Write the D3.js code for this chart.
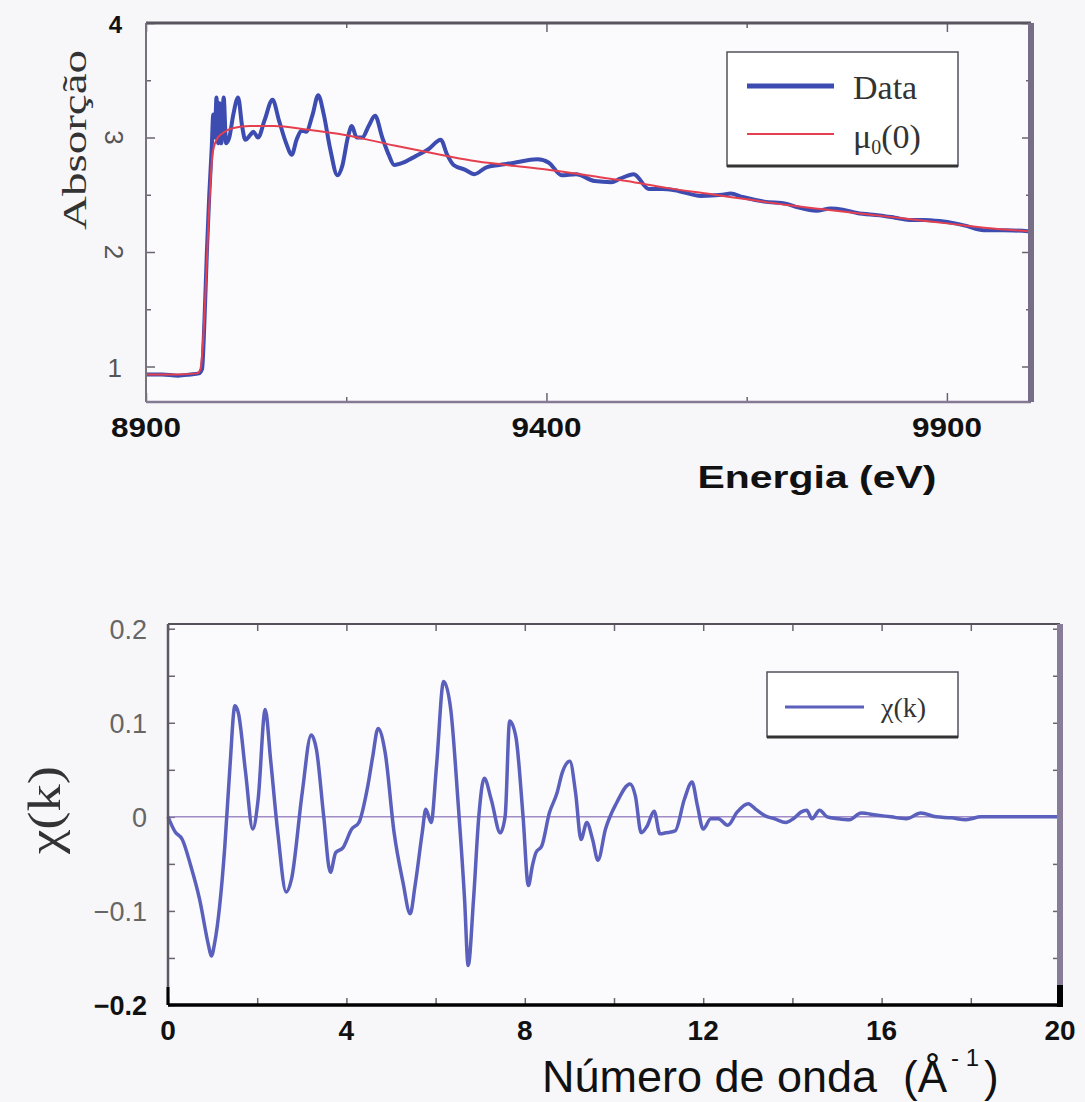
<!DOCTYPE html>
<html>
<head>
<meta charset="utf-8">
<script src="https://cdn.jsdelivr.net/npm/d3@7/dist/d3.min.js"></script>
<style>
    body { margin: 0; background: #f7f7fa; }
    svg { display: block; }
</style>
</head>
<body>
<div id="panel"></div>
<script>
// top panel: absorption vs energy (eV)
let energy = [
    8900, 8920, 8940, 8955, 8966, 8970, 8973, 8976, 8979, 8982,
    8984, 8986, 8988, 8990, 8992, 8994, 8997, 9000, 9004, 9009,
    9015, 9020, 9024, 9030, 9034, 9040, 9048, 9058, 9066, 9075,
    9082, 9088, 9094, 9100, 9108, 9115, 9122, 9130, 9139, 9145,
    9152, 9157, 9163, 9170, 9178, 9186, 9195, 9203, 9210, 9221,
    9232, 9243, 9253, 9268, 9276, 9284, 9298, 9310, 9325, 9341,
    9360, 9375, 9389, 9403, 9419, 9437, 9460, 9481, 9492, 9509,
    9528, 9545, 9560, 9593, 9620, 9630, 9645, 9672, 9700, 9714,
    9737, 9755, 9770, 9788, 9816, 9835, 9853, 9870, 9891, 9910,
    9923, 9946, 9970, 10004
]
let absData = [
    0.93, 0.93, 0.92, 0.93, 0.94, 0.98, 1.4, 2.0, 2.5, 2.9,
    3.2, 3.0, 3.35, 2.95, 3.3, 2.95, 3.35, 2.95, 3.0, 3.2,
    3.35, 3.1, 2.98, 3.02, 3.05, 3.0, 3.15, 3.33, 3.15, 2.95,
    2.85, 2.98, 3.06, 3.05, 3.2, 3.37, 3.2, 2.9, 2.67, 2.75,
    3.0, 3.1, 3.0, 3.0, 3.1, 3.19, 3.0, 2.85, 2.76, 2.78,
    2.82, 2.86, 2.9, 2.98, 2.85, 2.76, 2.72, 2.68, 2.74, 2.76,
    2.78, 2.8, 2.81, 2.78, 2.67, 2.68, 2.62, 2.61, 2.64, 2.68,
    2.55, 2.55, 2.54, 2.49, 2.5, 2.51, 2.48, 2.44, 2.42, 2.39,
    2.36, 2.38, 2.37, 2.34, 2.32, 2.3, 2.28, 2.28, 2.27, 2.25,
    2.23, 2.19, 2.19, 2.18
]
// smooth background mu0(E)
let energyBg = [
    8900, 8940, 8964, 8968, 8971, 8974, 8977, 8980, 8983, 8988,
    8996, 9008, 9030, 9060, 9100, 9150, 9210, 9260, 9306, 9350,
    9400, 9450, 9500, 9550, 9600, 9650, 9700, 9750, 9800, 9850,
    9900, 9950, 10004
]
let absBg = [
    0.93, 0.93, 0.94, 0.98, 1.2, 1.6, 2.1, 2.55, 2.85, 2.98,
    3.04, 3.08, 3.1, 3.1, 3.07, 3.02, 2.93, 2.86, 2.8, 2.76,
    2.72, 2.67, 2.62, 2.56, 2.51, 2.46, 2.41, 2.37, 2.33, 2.29,
    2.25, 2.21, 2.18
]
let energyTicks = [8900, 9400, 9900]
let energyMinor = [9150, 9650]
let absTicks = [1, 2, 3, 4]
let absMinor = [1.5, 2.5, 3.5]

// bottom panel: chi(k) vs wave number
let kValues = [
    0, 0.16, 0.32, 0.51, 0.71, 0.91, 0.97, 1.05, 1.27, 1.39,
    1.5, 1.58, 1.74, 1.9, 2.02, 2.18, 2.3, 2.46, 2.65, 2.77,
    3.01, 3.21, 3.33, 3.49, 3.64, 3.76, 3.92, 4.12, 4.28, 4.48,
    4.59, 4.71, 4.87, 5.07, 5.27, 5.43, 5.54, 5.7, 5.78, 5.9,
    6.02, 6.18, 6.34, 6.5, 6.65, 6.73, 6.85, 6.97, 7.09, 7.25,
    7.45, 7.56, 7.66, 7.8, 7.96, 8.08, 8.17, 8.25, 8.38, 8.55,
    8.72, 8.84, 9.01, 9.14, 9.26, 9.39, 9.52, 9.64, 9.81, 10.06,
    10.36, 10.48, 10.61, 10.74, 10.9, 11.03, 11.16, 11.37, 11.58, 11.75,
    11.87, 12.0, 12.17, 12.34, 12.55, 12.76, 13.01, 13.18, 13.39, 13.6,
    13.85, 14.02, 14.19, 14.32, 14.44, 14.61, 14.78, 15.03, 15.28, 15.54,
    15.87, 16.21, 16.55, 16.88, 17.22, 17.56, 17.89, 18.23, 18.82, 19.42,
    20
]
let chiValues = [
    0, -0.016, -0.024, -0.052, -0.088, -0.137, -0.148, -0.133, -0.034, 0.054,
    0.118, 0.11, 0.047, -0.013, 0.018, 0.114, 0.061, -0.016, -0.08, -0.066,
    0.026, 0.087, 0.071, 0.001, -0.059, -0.038, -0.033, -0.013, -0.006, 0.033,
    0.064, 0.094, 0.068, -0.017, -0.07, -0.103, -0.073, -0.017, 0.008, -0.006,
    0.054, 0.144, 0.114, 0.018, -0.088, -0.158, -0.088, 0.001, 0.041, 0.018,
    -0.017, 0.001, 0.102, 0.085, 0.001, -0.073, -0.052, -0.038, -0.031, 0.004,
    0.025, 0.047, 0.059, 0.025, -0.024, -0.006, -0.024, -0.046, -0.013, 0.015,
    0.035, 0.022, -0.017, -0.01, 0.006, -0.018, -0.017, -0.015, 0.019, 0.037,
    0.012, -0.013, -0.002, -0.002, -0.009, 0.005, 0.014, 0.008, 0.001, -0.002,
    -0.006, -0.002, 0.005, 0.007, -0.002, 0.007, 0, -0.002, -0.003, 0.004,
    0.002, 0, -0.002, 0.004, 0, -0.001, -0.003, 0, 0, 0,
    0
]
let kTicks = [0, 4, 8, 12, 16, 20]
let kMinor = [2, 6, 10, 14, 18]
let chiTicks = [0.2, 0.1, 0, -0.1, -0.2]
let chiLabels = ['0.2', '0.1', '0', '\u22120.1', '\u22120.2']
let chiMinor = [-0.15, -0.05, 0.05, 0.15]

let svgWidth = 1085
let svgHeight = 1102
let svg = d3.select('#panel').append('svg')
    .attr('width', svgWidth)
    .attr('height', svgHeight)

drawAbsorption(svg)
drawChi(svg)

// inward ticks on all four sides
function drawTicks(g, x, y, xVals, yVals, size) {
    let [left, right] = x.range()
    let [bottom, top] = y.range()
    let style = sel => {
        sel.select('.domain').remove()
        sel.selectAll('line').attr('stroke', '#6a6470').attr('stroke-width', 1.5)
    }
    g.append('g').attr('transform', `translate(0, ${bottom})`)
        .call(d3.axisBottom(x).tickValues(xVals).tickSize(-size).tickFormat(''))
        .call(style)
    g.append('g').attr('transform', `translate(0, ${top})`)
        .call(d3.axisTop(x).tickValues(xVals).tickSize(-size).tickFormat(''))
        .call(style)
    g.append('g').attr('transform', `translate(${left}, 0)`)
        .call(d3.axisLeft(y).tickValues(yVals).tickSize(-size).tickFormat(''))
        .call(style)
    g.append('g').attr('transform', `translate(${right}, 0)`)
        .call(d3.axisRight(y).tickValues(yVals).tickSize(-size).tickFormat(''))
        .call(style)
}

function drawAbsorption(svg) {
    let padding = { 'left': 146, 'right': 1031, 'top': 23, 'bottom': 402 }
    let g = svg.append('g')

    let x = d3.scaleLinear()
        .domain([8900, 10005])
        .range([padding.left, padding.right])
    let y = d3.scaleLinear()
        .domain([0.69, 4])
        .range([padding.bottom, padding.top])

    g.append('rect')
        .attr('x', padding.left).attr('y', padding.top)
        .attr('width', padding.right - padding.left)
        .attr('height', padding.bottom - padding.top)
        .attr('fill', '#fbfbfd')

    drawTicks(g, x, y, energyMinor, absMinor, 5)
    drawTicks(g, x, y, energyTicks, absTicks, 9)

    let line = d3.line().curve(d3.curveMonotoneX)
    g.append('path')
        .datum(energy.map((d, i) => [x(d), y(absData[i])]))
        .attr('d', line)
        .attr('fill', 'none')
        .attr('stroke', '#3d4cb0')
        .attr('stroke-width', 4)
        .attr('stroke-linejoin', 'round')
    g.append('path')
        .datum(energyBg.map((d, i) => [x(d), y(absBg[i])]))
        .attr('d', line)
        .attr('fill', 'none')
        .attr('stroke', '#e5404f')
        .attr('stroke-width', 2)

    // frame
    g.append('line').attr('x1', padding.left).attr('x2', padding.right)
        .attr('y1', padding.top).attr('y2', padding.top)
        .attr('stroke', '#5a5560').attr('stroke-width', 3)
    g.append('line').attr('x1', padding.left).attr('x2', padding.left)
        .attr('y1', padding.top).attr('y2', padding.bottom)
        .attr('stroke', '#77727c').attr('stroke-width', 2)
    g.append('line').attr('x1', padding.left).attr('x2', padding.right)
        .attr('y1', padding.bottom).attr('y2', padding.bottom)
        .attr('stroke', '#857a94').attr('stroke-width', 2.5)
    g.append('line').attr('x1', padding.right).attr('x2', padding.right)
        .attr('y1', padding.top).attr('y2', padding.bottom)
        .attr('stroke', '#786d86').attr('stroke-width', 6)

    // tick labels
    g.append('g').selectAll('text')
        .data(energyTicks)
        .enter()
        .append('text')
        .attr('x', d => x(d))
        .attr('y', 437)
        .attr('text-anchor', 'middle')
        .attr('font-family', 'Liberation Sans, Arial, sans-serif')
        .attr('font-weight', 'bold')
        .attr('font-size', 28)
        .attr('textLength', 70)
        .attr('lengthAdjust', 'spacingAndGlyphs')
        .attr('fill', '#111')
        .text(d => d)

    g.append('g').selectAll('text')
        .data(absTicks)
        .enter()
        .append('text')
        .attr('transform', d => {
            if (d == 2 || d == 3) return `translate(114, ${y(d)}) rotate(90)`
            return `translate(122, ${y(d) + 10})`
        })
        .attr('text-anchor', d => (d == 2 || d == 3) ? 'middle' : 'end')
        .attr('dy', d => (d == 2 || d == 3) ? '0.35em' : 0)
        .attr('font-family', 'Liberation Sans, Arial, sans-serif')
        .attr('font-weight', d => d == 4 ? 'bold' : 'normal')
        .attr('font-size', d => d == 4 ? 24 : 26)
        .attr('fill', d => d == 4 ? '#111' : '#555')
        .text(d => d)

    // axis titles
    g.append('text')
        .attr('transform', `translate(86, 140) rotate(-90)`)
        .attr('text-anchor', 'middle')
        .attr('font-family', 'Liberation Serif, Times New Roman, serif')
        .attr('font-size', 34)
        .attr('textLength', 180)
        .attr('lengthAdjust', 'spacingAndGlyphs')
        .attr('fill', '#333')
        .text('Absorção')

    g.append('text')
        .attr('x', 817)
        .attr('y', 488)
        .attr('text-anchor', 'middle')
        .attr('font-family', 'Liberation Sans, Arial, sans-serif')
        .attr('font-weight', 'bold')
        .attr('font-size', 31)
        .attr('textLength', 239)
        .attr('lengthAdjust', 'spacingAndGlyphs')
        .attr('fill', '#111')
        .text('Energia (eV)')

    // legend
    let legend = g.append('g')
    legend.append('rect')
        .attr('x', 727).attr('y', 52)
        .attr('width', 231).attr('height', 114)
        .attr('fill', '#ffffff')
        .attr('stroke', '#55505a')
        .attr('stroke-width', 1.5)
    legend.append('line')
        .attr('x1', 727).attr('x2', 958).attr('y1', 166).attr('y2', 166)
        .attr('stroke', '#333').attr('stroke-width', 3)
    legend.append('line')
        .attr('x1', 747).attr('x2', 834).attr('y1', 86).attr('y2', 86)
        .attr('stroke', '#3d4cb0').attr('stroke-width', 5)
    legend.append('line')
        .attr('x1', 747).attr('x2', 834).attr('y1', 134).attr('y2', 134)
        .attr('stroke', '#e5404f').attr('stroke-width', 2)
    legend.append('text')
        .attr('x', 853).attr('y', 99)
        .attr('font-family', 'Liberation Serif, Times New Roman, serif')
        .attr('font-size', 34)
        .attr('fill', '#333')
        .text('Data')
    let mu = legend.append('text')
        .attr('x', 853).attr('y', 148)
        .attr('font-family', 'Liberation Serif, Times New Roman, serif')
        .attr('font-size', 34)
        .attr('fill', '#333')
    mu.append('tspan').text('\u03bc')
    mu.append('tspan').attr('dy', 6).attr('font-size', 20).text('0')
    mu.append('tspan').attr('dy', -6).text('(0)')
}

function drawChi(svg) {
    let padding = { 'left': 168, 'right': 1060, 'top': 624, 'bottom': 1005 }
    let g = svg.append('g')

    let x = d3.scaleLinear()
        .domain([0, 20])
        .range([padding.left, padding.right])
    let y = d3.scaleLinear()
        .domain([-0.2, 0.205])
        .range([padding.bottom, padding.top])

    g.append('rect')
        .attr('x', padding.left).attr('y', padding.top)
        .attr('width', padding.right - padding.left)
        .attr('height', padding.bottom - padding.top)
        .attr('fill', '#fbfbfd')

    drawTicks(g, x, y, kMinor.concat(kTicks), chiMinor.concat(chiTicks), 7)

    // zero line
    g.append('line')
        .attr('x1', padding.left).attr('x2', padding.right)
        .attr('y1', y(0)).attr('y2', y(0))
        .attr('stroke', '#a08cc6')
        .attr('stroke-width', 1.5)

    let line = d3.line().curve(d3.curveMonotoneX)
    g.append('path')
        .datum(kValues.map((d, i) => [x(d), y(chiValues[i])]))
        .attr('d', line)
        .attr('fill', 'none')
        .attr('stroke', '#5a60bc')
        .attr('stroke-width', 3.5)
        .attr('stroke-linejoin', 'round')

    // frame
    g.append('line').attr('x1', padding.left).attr('x2', padding.right)
        .attr('y1', padding.top).attr('y2', padding.top)
        .attr('stroke', '#55505a').attr('stroke-width', 2)
    g.append('line').attr('x1', padding.left).attr('x2', padding.left)
        .attr('y1', padding.top).attr('y2', padding.bottom)
        .attr('stroke', '#5e5964').attr('stroke-width', 2.5)
    g.append('line').attr('x1', padding.left).attr('x2', padding.left)
        .attr('y1', padding.bottom - 18).attr('y2', padding.bottom)
        .attr('stroke', '#000').attr('stroke-width', 3)
    g.append('line').attr('x1', padding.right).attr('x2', padding.right)
        .attr('y1', padding.top).attr('y2', padding.bottom)
        .attr('stroke', '#887d98').attr('stroke-width', 6)
    g.append('line').attr('x1', padding.right).attr('x2', padding.right)
        .attr('y1', padding.bottom - 20).attr('y2', padding.bottom + 2)
        .attr('stroke', '#000').attr('stroke-width', 6)
    g.append('line').attr('x1', padding.left).attr('x2', padding.right)
        .attr('y1', padding.bottom).attr('y2', padding.bottom)
        .attr('stroke', '#000').attr('stroke-width', 3.5)

    // tick labels
    g.append('g').selectAll('text')
        .data(kTicks)
        .enter()
        .append('text')
        .attr('x', d => x(d))
        .attr('y', 1040)
        .attr('text-anchor', 'middle')
        .attr('font-family', 'Liberation Sans, Arial, sans-serif')
        .attr('font-weight', 'bold')
        .attr('font-size', 28)
        .attr('fill', '#111')
        .text(d => d)

    g.append('g').selectAll('text')
        .data(chiTicks)
        .enter()
        .append('text')
        .attr('x', 147)
        .attr('y', d => y(d) + 10)
        .attr('text-anchor', 'end')
        .attr('font-family', 'Liberation Sans, Arial, sans-serif')
        .attr('font-weight', d => d == -0.2 ? 'bold' : 'normal')
        .attr('font-size', 27)
        .attr('fill', d => d == -0.2 ? '#111' : '#666')
        .text((d, i) => chiLabels[i])

    // axis titles
    g.append('text')
        .attr('transform', `translate(60, 810) rotate(-90)`)
        .attr('text-anchor', 'middle')
        .attr('font-family', 'Liberation Serif, Times New Roman, serif')
        .attr('font-size', 46)
        .attr('textLength', 88)
        .attr('lengthAdjust', 'spacingAndGlyphs')
        .attr('fill', '#333')
        .text('\u03c7(k)')

    let title = g.append('g')
        .attr('font-family', 'Liberation Sans, Arial, sans-serif')
        .attr('fill', '#111')
    title.append('text')
        .attr('x', 542).attr('y', 1092)
        .attr('font-size', 44)
        .attr('textLength', 335)
        .attr('lengthAdjust', 'spacingAndGlyphs')
        .text('Número de onda')
    title.append('text')
        .attr('x', 903).attr('y', 1092)
        .attr('font-size', 44)
        .text('(Å')
    title.append('text')
        .attr('x', 951).attr('y', 1066)
        .attr('font-size', 24)
        .text('- 1')
    title.append('text')
        .attr('x', 984).attr('y', 1092)
        .attr('font-size', 44)
        .text(')')

    // legend
    let legend = g.append('g')
    legend.append('rect')
        .attr('x', 767).attr('y', 672)
        .attr('width', 191).attr('height', 65)
        .attr('fill', '#ffffff')
        .attr('stroke', '#55505a')
        .attr('stroke-width', 1.5)
    legend.append('line')
        .attr('x1', 767).attr('x2', 958).attr('y1', 737).attr('y2', 737)
        .attr('stroke', '#333').attr('stroke-width', 3)
    legend.append('line')
        .attr('x1', 785).attr('x2', 864).attr('y1', 707).attr('y2', 707)
        .attr('stroke', '#5a60bc').attr('stroke-width', 3)
    legend.append('text')
        .attr('x', 881).attr('y', 717)
        .attr('font-family', 'Liberation Serif, Times New Roman, serif')
        .attr('font-size', 28)
        .attr('fill', '#333')
        .text('\u03c7(k)')
}
</script>
</body>
</html>
